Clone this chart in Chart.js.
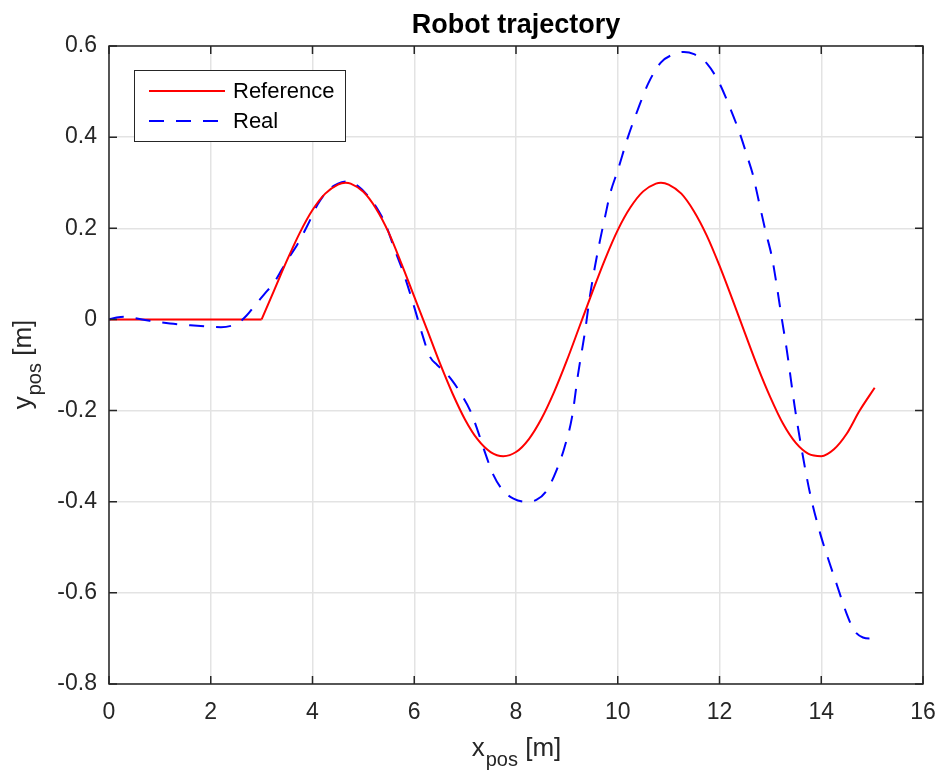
<!DOCTYPE html>
<html>
<head>
<meta charset="utf-8">
<title>Robot trajectory</title>
<script src="https://cdn.jsdelivr.net/npm/chart.js@4"></script>
<style>
  body { margin: 0; background: #fff; }
  canvas { display: block; }
</style>
</head>
<body>
<canvas id="trajChart" width="941" height="774"></canvas>
<script>
/* global Chart */

// reference path (x, y in metres): straight wait segment, then the sine part
let refFlatX = [0, 3.0];
let refFlatY = [0, 0];
let refX = [3.0, 3.25, 3.5, 3.75, 4.0, 4.25, 4.5, 4.65, 4.75, 5.0, 5.25, 5.5, 5.75, 6.0, 6.25,
  6.5, 6.75, 7.0, 7.25, 7.5, 7.75, 8.0, 8.25, 8.5, 8.75, 9.0, 9.25, 9.5, 9.75, 10.0, 10.25, 10.5,
  10.75, 10.85, 11.0, 11.25, 11.5, 11.75, 12.0, 12.25, 12.5, 12.75, 13.0, 13.25, 13.5, 13.75, 14.0,
  14.25, 14.5, 14.75, 15.05];
let refY = [0, 0.065, 0.13, 0.19, 0.24, 0.276, 0.296, 0.3, 0.298, 0.28, 0.243, 0.19, 0.122,
  0.05, -0.022, -0.095, -0.162, -0.22, -0.264, -0.291, -0.3, -0.291, -0.263, -0.218, -0.159, -0.09,
  -0.015, 0.06, 0.132, 0.196, 0.246, 0.281, 0.298, 0.3, 0.296, 0.276, 0.237, 0.184, 0.118, 0.045,
  -0.03, -0.104, -0.171, -0.229, -0.271, -0.295, -0.3, -0.285, -0.251, -0.201, -0.15];

// measured path
let realX = [0, 0.15, 0.3, 0.5, 0.8, 1.2, 1.6, 2.0, 2.2, 2.4, 2.55, 2.7, 2.85, 3.05, 3.25, 3.4, 3.55,
  3.7, 3.9, 4.1, 4.3, 4.5, 4.7, 4.9, 5.1, 5.3, 5.45, 5.6, 5.8, 6.0, 6.15, 6.3, 6.45, 6.6, 6.75, 6.9,
  7.1, 7.25, 7.4, 7.55, 7.75, 7.95, 8.2, 8.4, 8.6, 8.8, 8.95, 9.1, 9.22, 9.36, 9.45, 9.55, 9.65, 9.75,
  9.85, 10.0, 10.2, 10.4, 10.6, 10.85, 11.1, 11.3, 11.5, 11.75, 12.0, 12.2, 12.4, 12.55, 12.65,
  12.77, 12.9, 13.03, 13.12, 13.22, 13.32, 13.48, 13.62, 13.78, 13.98, 14.15, 14.3, 14.5, 14.65,
  14.82, 14.95, 15.06];
let realY = [0, 0.004, 0.006, 0.003, -0.003, -0.009, -0.013, -0.016, -0.017, -0.014, -0.007, 0.008,
  0.028, 0.055, 0.082, 0.11, 0.138, 0.164, 0.206, 0.252, 0.283, 0.298, 0.303, 0.292, 0.27, 0.238,
  0.205, 0.158, 0.098, 0.027, -0.03, -0.08, -0.1, -0.115, -0.135, -0.16, -0.2, -0.245, -0.295, -0.34,
  -0.376, -0.393, -0.4, -0.396, -0.376, -0.33, -0.282, -0.215, -0.12, -0.024, 0.049, 0.115, 0.173,
  0.225, 0.276, 0.327, 0.4, 0.462, 0.518, 0.564, 0.582, 0.587, 0.582, 0.562, 0.518, 0.466, 0.408,
  0.356, 0.32, 0.261, 0.196, 0.137, 0.078, 0.005, -0.065, -0.193, -0.288, -0.382, -0.47, -0.53,
  -0.58, -0.646, -0.683, -0.698, -0.7, -0.697];

let xTicks = [0, 2, 4, 6, 8, 10, 12, 14, 16];
let yTicks = [-0.8, -0.6, -0.4, -0.2, 0, 0.2, 0.4, 0.6];

const FONT = '"Liberation Sans", Arial, Helvetica, sans-serif';
const AXIS_COL = "#262626";
const RED = "rgb(255, 0, 0)";
const BLUE = "rgb(0, 0, 255)";
const DASH = [15, 12];

function pts(xs, ys) {
  return xs.map((x, i) => ({ x: x, y: ys[i] }));
}

function fmt(v) {
  if (Math.abs(v) < 1e-9) return "0";
  return Number.isInteger(v) ? String(v) : v.toFixed(1);
}

// text with a subscript part: main + sub + rest
function subText(ctx, x, y, main, sub, rest, size) {
  ctx.font = size + "px " + FONT;
  let w1 = ctx.measureText(main).width;
  ctx.font = Math.round(size * 0.75) + "px " + FONT;
  let w2 = ctx.measureText(sub).width;
  ctx.font = size + "px " + FONT;
  let w3 = ctx.measureText(" " + rest).width;
  let start = x - (w1 + w2 + w3) / 2;
  ctx.textAlign = "left";
  ctx.textBaseline = "alphabetic";
  ctx.fillText(main, start, y);
  ctx.font = Math.round(size * 0.75) + "px " + FONT;
  ctx.fillText(sub, start + w1 + 1, y + size * 0.4);
  ctx.font = size + "px " + FONT;
  ctx.fillText(" " + rest, start + w1 + w2 + 1, y);
}

// box, inward ticks, title, axis labels and legend, MATLAB style
const matlabFrame = {
  id: "matlabFrame",
  afterDraw(chart) {
    const ctx = chart.ctx;
    const a = chart.chartArea;
    const xs = chart.scales.x;
    const ys = chart.scales.y;
    const tl = 8;
    ctx.save();

    ctx.strokeStyle = AXIS_COL;
    ctx.lineWidth = 1.5;
    ctx.strokeRect(a.left, a.top, a.right - a.left, a.bottom - a.top);
    ctx.beginPath();
    xTicks.forEach((t) => {
      let px = xs.getPixelForValue(t);
      ctx.moveTo(px, a.bottom); ctx.lineTo(px, a.bottom - tl);
      ctx.moveTo(px, a.top); ctx.lineTo(px, a.top + tl);
    });
    yTicks.forEach((t) => {
      let py = ys.getPixelForValue(t);
      ctx.moveTo(a.left, py); ctx.lineTo(a.left + tl, py);
      ctx.moveTo(a.right, py); ctx.lineTo(a.right - tl, py);
    });
    ctx.stroke();

    // title
    ctx.fillStyle = "#000";
    ctx.font = "bold 27px " + FONT;
    ctx.textAlign = "center";
    ctx.textBaseline = "alphabetic";
    ctx.fillText("Robot trajectory", (a.left + a.right) / 2, 33);

    // axis labels
    ctx.fillStyle = AXIS_COL;
    subText(ctx, (a.left + a.right) / 2, 756, "x", "pos", "[m]", 26);
    ctx.save();
    ctx.translate(31, (a.top + a.bottom) / 2);
    ctx.rotate(-Math.PI / 2);
    subText(ctx, 0, 0, "y", "pos", "[m]", 26);
    ctx.restore();

    // legend (one entry per label)
    const lx = 134, ly = 70, lw = 211, lh = 71;
    ctx.fillStyle = "#fff";
    ctx.fillRect(lx, ly, lw, lh);
    ctx.strokeStyle = AXIS_COL;
    ctx.lineWidth = 1;
    ctx.strokeRect(lx + 0.5, ly + 0.5, lw, lh);
    let entries = chart.data.datasets.filter((ds) => !ds.hideInLegend);
    entries.forEach((ds, i) => {
      let yy = ly + 21 + i * 30;
      ctx.beginPath();
      ctx.strokeStyle = ds.borderColor;
      ctx.lineWidth = 2;
      ctx.setLineDash(ds.borderDash || []);
      ctx.moveTo(149, yy);
      ctx.lineTo(225, yy);
      ctx.stroke();
      ctx.setLineDash([]);
      ctx.fillStyle = "#000";
      ctx.font = "22px " + FONT;
      ctx.textAlign = "left";
      ctx.textBaseline = "middle";
      ctx.fillText(ds.label, 233, yy + 1);
    });

    ctx.restore();
  },
};

var ctx = document.getElementById("trajChart").getContext("2d");
var trajChart = new Chart(ctx, {
  type: "line",
  data: {
    datasets: [
      {
        label: "Reference",
        data: pts(refX, refY),
        borderColor: RED,
        borderWidth: 2,
        pointRadius: 0,
        cubicInterpolationMode: "monotone",
        fill: false,
      },
      {
        label: "Real",
        data: pts(realX, realY),
        borderColor: BLUE,
        borderWidth: 2,
        borderDash: DASH,
        pointRadius: 0,
        cubicInterpolationMode: "monotone",
        fill: false,
      },
      {
        label: "Reference",
        hideInLegend: true,
        data: pts(refFlatX, refFlatY),
        borderColor: RED,
        borderWidth: 2,
        pointRadius: 0,
        fill: false,
      },
    ],
  },
  options: {
    responsive: false,
    animation: false,
    layout: { padding: { top: 46, right: 18, left: 0, bottom: 0 } },
    plugins: {
      legend: { display: false },
      title: { display: false },
      tooltip: { enabled: false },
    },
    scales: {
      x: {
        type: "linear",
        min: 0,
        max: 16,
        afterFit: (s) => {
          s.height = 90;
          s.paddingLeft = 0;
          s.paddingRight = 0;
        },
        afterBuildTicks: (s) => { s.ticks = xTicks.map((v) => ({ value: v })); },
        border: { display: false },
        grid: { color: "#e3e3e3", lineWidth: 1.5, drawTicks: false },
        ticks: {
          padding: 15,
          color: AXIS_COL,
          font: { family: FONT, size: 23 },
          callback: (v) => fmt(v),
        },
      },
      y: {
        min: -0.8,
        max: 0.6,
        afterFit: (s) => {
          s.width = 109;
          s.paddingTop = 0;
          s.paddingBottom = 0;
        },
        afterBuildTicks: (s) => { s.ticks = yTicks.map((v) => ({ value: v })); },
        border: { display: false },
        grid: { color: "#e3e3e3", lineWidth: 1.5, drawTicks: false },
        ticks: {
          padding: 12,
          color: AXIS_COL,
          font: { family: FONT, size: 23 },
          callback: (v) => fmt(v),
        },
      },
    },
  },
  plugins: [matlabFrame],
});
</script>
</body>
</html>
